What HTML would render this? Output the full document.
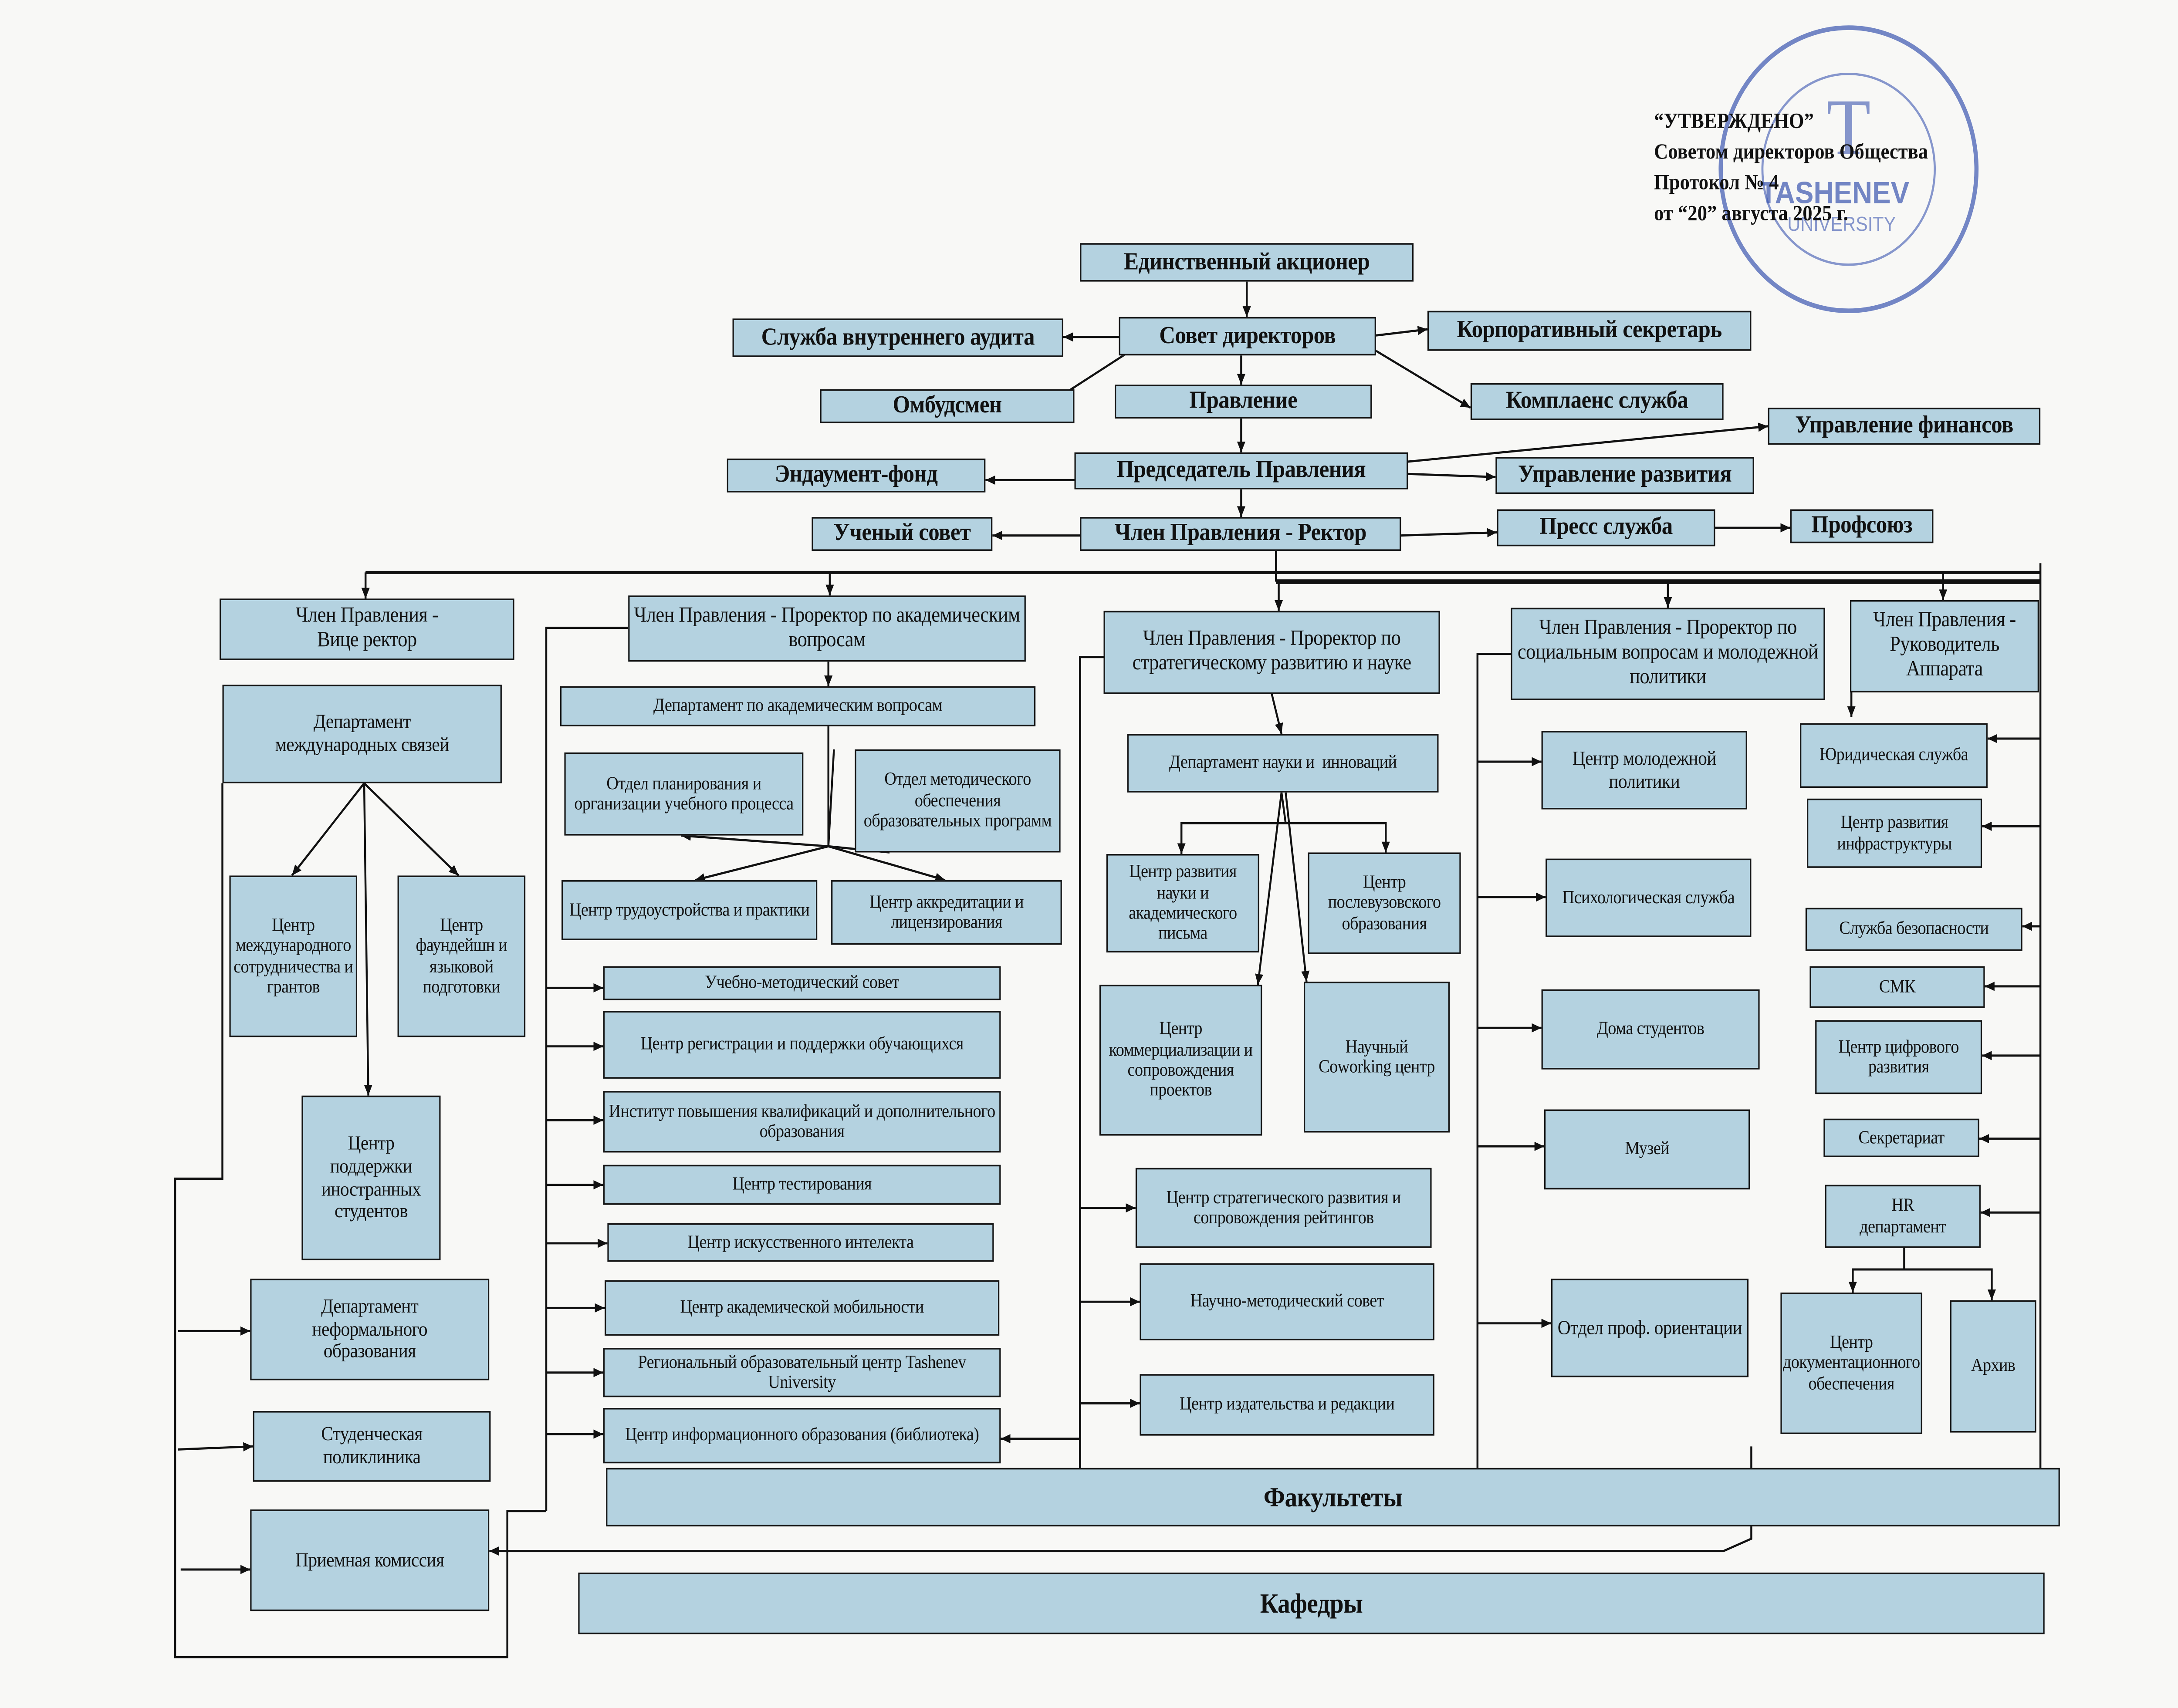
<!DOCTYPE html>
<html><head><meta charset="utf-8">
<style>
html,body{margin:0;padding:0;background:#f8f8f6;width:100%;height:100%;overflow:hidden;}
svg.root{display:block;position:fixed;left:0;top:0;width:100vw;height:100vh;}
.b{position:absolute;box-sizing:border-box;background:#b4d2e0;border:1.6px solid #151515;display:flex;align-items:center;justify-content:center;text-align:center;font-family:"Liberation Serif",serif;color:#111;line-height:1.12;font-size:12px;letter-spacing:-0.2px;overflow:hidden;padding:0 2px;}
.L{font-size:16px;font-weight:bold;}
.M{font-size:14px;}
.st{position:absolute;font-family:"Liberation Serif",serif;font-weight:bold;font-size:14px;color:#111;line-height:20px;white-space:nowrap;}
</style></head><body>
<svg class="root" viewBox="0 0 1567 1110" preserveAspectRatio="none" xmlns="http://www.w3.org/2000/svg">
<defs><marker id="a" markerWidth="8" markerHeight="8" refX="7" refY="4" orient="auto" markerUnits="userSpaceOnUse"><path d="M0,1 L7,4 L0,7z" fill="#111"/></marker></defs>
<rect width="1567" height="1110" fill="#f8f8f6"/>
<circle cx="1330" cy="110" r="92" fill="none" stroke="#3a55b0" stroke-width="3" opacity="0.7"/>
<circle cx="1330" cy="110" r="62" fill="none" stroke="#3a55b0" stroke-width="1.5" opacity="0.6"/>
<text x="1330" y="100" font-family="Liberation Serif" font-size="52" fill="#3a55b0" opacity="0.6" text-anchor="middle">T</text>
<text x="1320" y="132" font-family="Liberation Sans" font-weight="bold" font-size="20" fill="#3a55b0" opacity="0.7" text-anchor="middle">TASHENEV</text>
<text x="1325" y="150" font-family="Liberation Sans" font-size="13" fill="#3a55b0" opacity="0.6" text-anchor="middle">UNIVERSITY</text>
<g stroke="#111" stroke-width="1.4" fill="none">
<path d="M897 183V206" marker-end="url(#a)"/>
<path d="M805 219H765" marker-end="url(#a)"/>
<path d="M990 218L1027 214" marker-end="url(#a)"/>
<path d="M810 230L750 265" marker-end="url(#a)"/>
<path d="M990 228L1058 265" marker-end="url(#a)"/>
<path d="M893 231V250" marker-end="url(#a)"/>
<path d="M893 272V294" marker-end="url(#a)"/>
<path d="M1013 300L1272 277" marker-end="url(#a)"/>
<path d="M1013 308L1076 310" marker-end="url(#a)"/>
<path d="M773 312H709" marker-end="url(#a)"/>
<path d="M893 318V336" marker-end="url(#a)"/>
<path d="M777 348H714" marker-end="url(#a)"/>
<path d="M1008 348L1077 346" marker-end="url(#a)"/>
<path d="M1234 343H1288" marker-end="url(#a)"/>
<path d="M918 358V378"/>
<path d="M263 372H1468" stroke-width="2"/>
<path d="M918 378H1468" stroke-width="3"/>
<path d="M263 372V389" marker-end="url(#a)"/>
<path d="M597 372V387" marker-end="url(#a)"/>
<path d="M920 378V397" marker-end="url(#a)"/>
<path d="M1200 378V395" marker-end="url(#a)"/>
<path d="M1398 372V390" marker-end="url(#a)"/>
<path d="M1468 366V955"/>
<path d="M160 509V766H126V1077H365V982H393"/>
<path d="M262 509L210 569" marker-end="url(#a)"/>
<path d="M262 509L330 569" marker-end="url(#a)"/>
<path d="M262 509L265 712" marker-end="url(#a)"/>
<path d="M128 865H180" marker-end="url(#a)"/>
<path d="M128 942L182 940" marker-end="url(#a)"/>
<path d="M130 1020H180" marker-end="url(#a)"/>
<path d="M1260 940V1000L1240 1008H352" marker-end="url(#a)"/>
<path d="M452 408H393V982"/>
<path d="M596 430V446" marker-end="url(#a)"/>
<path d="M596 472V550"/>
<path d="M596 550L490 543" marker-end="url(#a)"/>
<path d="M596 550L600 487"/>
<path d="M596 550L640 554"/>
<path d="M596 550L500 572" marker-end="url(#a)"/>
<path d="M596 550L680 572" marker-end="url(#a)"/>
<path d="M393 642H434" marker-end="url(#a)"/>
<path d="M393 680H434" marker-end="url(#a)"/>
<path d="M393 728H434" marker-end="url(#a)"/>
<path d="M393 770H434" marker-end="url(#a)"/>
<path d="M393 808H437" marker-end="url(#a)"/>
<path d="M393 850H435" marker-end="url(#a)"/>
<path d="M393 892H434" marker-end="url(#a)"/>
<path d="M393 932H434" marker-end="url(#a)"/>
<path d="M794 427H777V958"/>
<path d="M915 451L922 477" marker-end="url(#a)"/>
<path d="M925 535H850V555" marker-end="url(#a)"/>
<path d="M925 535H997V554" marker-end="url(#a)"/>
<path d="M922 515L925 535"/>
<path d="M922 515L905 640" marker-end="url(#a)"/>
<path d="M925 515L940 638" marker-end="url(#a)"/>
<path d="M777 785H817" marker-end="url(#a)"/>
<path d="M777 846H820" marker-end="url(#a)"/>
<path d="M777 912H820" marker-end="url(#a)"/>
<path d="M777 935H720" marker-end="url(#a)"/>
<path d="M1087 425H1063V955"/>
<path d="M1063 495H1109" marker-end="url(#a)"/>
<path d="M1063 583H1112" marker-end="url(#a)"/>
<path d="M1063 668H1109" marker-end="url(#a)"/>
<path d="M1063 745H1111" marker-end="url(#a)"/>
<path d="M1063 860H1116" marker-end="url(#a)"/>
<path d="M1468 480H1430" marker-end="url(#a)"/>
<path d="M1468 537H1426" marker-end="url(#a)"/>
<path d="M1468 602H1455" marker-end="url(#a)"/>
<path d="M1468 641H1428" marker-end="url(#a)"/>
<path d="M1468 686H1426" marker-end="url(#a)"/>
<path d="M1468 740H1424" marker-end="url(#a)"/>
<path d="M1468 788H1425" marker-end="url(#a)"/>
<path d="M1370 811V825H1333V840" marker-end="url(#a)"/>
<path d="M1370 825H1433V845" marker-end="url(#a)"/>
<path d="M1332 450V466" marker-end="url(#a)"/>
</g>
<foreignObject x="0" y="0" width="1567" height="1110">
<div xmlns="http://www.w3.org/1999/xhtml" style="position:relative;width:1567px;height:1110px;">
<div class="st" style="left:1190px;top:70px">“УТВЕРЖДЕНО”<br/>Советом директоров Общества<br/>Протокол № 4<br/>от “20” августа 2025 г.</div>

<div class="b L" style="left:777px;top:158px;width:240px;height:25px">Единственный акционер</div>
<div class="b L" style="left:527px;top:207px;width:238px;height:25px">Служба внутреннего аудита</div>
<div class="b L" style="left:805px;top:206px;width:185px;height:25px">Совет директоров</div>
<div class="b L" style="left:1027px;top:202px;width:233px;height:26px">Корпоративный секретарь</div>
<div class="b L" style="left:590px;top:253px;width:183px;height:22px">Омбудсмен</div>
<div class="b L" style="left:802px;top:250px;width:185px;height:22px">Правление</div>
<div class="b L" style="left:1058px;top:249px;width:182px;height:24px">Комплаенс служба</div>
<div class="b L" style="left:1272px;top:265px;width:196px;height:24px">Управление финансов</div>
<div class="b L" style="left:523px;top:298px;width:186px;height:22px">Эндаумент-фонд</div>
<div class="b L" style="left:773px;top:294px;width:240px;height:24px">Председатель Правления</div>
<div class="b L" style="left:1076px;top:297px;width:186px;height:24px">Управление развития</div>
<div class="b L" style="left:584px;top:336px;width:130px;height:22px">Ученый совет</div>
<div class="b L" style="left:777px;top:336px;width:231px;height:22px">Член Правления - Ректор</div>
<div class="b L" style="left:1077px;top:331px;width:157px;height:24px">Пресс служба</div>
<div class="b L" style="left:1288px;top:331px;width:103px;height:22px">Профсоюз</div>

<div class="b M" style="left:158px;top:389px;width:212px;height:40px">Член Правления -<br/>Вице ректор</div>
<div class="b M" style="left:452px;top:387px;width:286px;height:43px">Член Правления - Проректор по академическим вопросам</div>
<div class="b M" style="left:794px;top:397px;width:242px;height:54px">Член Правления - Проректор по стратегическому развитию и науке</div>
<div class="b M" style="left:1087px;top:395px;width:226px;height:60px">Член Правления - Проректор по социальным вопросам и молодежной политики</div>
<div class="b M" style="left:1331px;top:390px;width:136px;height:60px">Член Правления - Руководитель Аппарата</div>

<div class="b" style="left:160px;top:445px;width:201px;height:64px;font-size:13px">Департамент<br/>международных связей</div>
<div class="b" style="left:165px;top:569px;width:92px;height:105px">Центр международного сотрудничества и грантов</div>
<div class="b" style="left:286px;top:569px;width:92px;height:105px">Центр фаундейшн и языковой подготовки</div>
<div class="b" style="left:217px;top:712px;width:100px;height:107px;font-size:13px">Центр поддержки иностранных студентов</div>
<div class="b" style="left:180px;top:831px;width:172px;height:66px;font-size:13px">Департамент<br/>неформального<br/>образования</div>
<div class="b" style="left:182px;top:917px;width:171px;height:46px;font-size:13px">Студенческая<br/>поликлиника</div>
<div class="b" style="left:180px;top:981px;width:172px;height:66px;font-size:13px">Приемная комиссия</div>

<div class="b" style="left:403px;top:446px;width:342px;height:26px">Департамент по академическим вопросам</div>
<div class="b" style="left:406px;top:489px;width:172px;height:54px">Отдел планирования и организации учебного процесса</div>
<div class="b" style="left:615px;top:487px;width:148px;height:67px">Отдел методического обеспечения образовательных программ</div>
<div class="b" style="left:404px;top:572px;width:184px;height:39px">Центр трудоустройства и практики</div>
<div class="b" style="left:598px;top:572px;width:166px;height:42px">Центр аккредитации и лицензирования</div>
<div class="b" style="left:434px;top:628px;width:286px;height:22px">Учебно-методический совет</div>
<div class="b" style="left:434px;top:657px;width:286px;height:44px">Центр регистрации и поддержки обучающихся</div>
<div class="b" style="left:434px;top:709px;width:286px;height:40px">Институт повышения квалификаций и дополнительного образования</div>
<div class="b" style="left:434px;top:757px;width:286px;height:26px">Центр тестирования</div>
<div class="b" style="left:437px;top:795px;width:278px;height:25px">Центр искусственного интелекта</div>
<div class="b" style="left:435px;top:832px;width:284px;height:36px">Центр академической мобильности</div>
<div class="b" style="left:434px;top:876px;width:286px;height:32px">Региональный образовательный центр Tashenev University</div>
<div class="b" style="left:434px;top:915px;width:286px;height:36px">Центр информационного образования (библиотека)</div>

<div class="b" style="left:811px;top:477px;width:224px;height:38px">Департамент науки и &#160;инноваций</div>
<div class="b" style="left:796px;top:555px;width:110px;height:64px">Центр развития науки и академического письма</div>
<div class="b" style="left:941px;top:554px;width:110px;height:66px">Центр послевузовского образования</div>
<div class="b" style="left:791px;top:640px;width:117px;height:98px">Центр коммерциализации и сопровождения проектов</div>
<div class="b" style="left:938px;top:638px;width:105px;height:98px">Научный Coworking центр</div>
<div class="b" style="left:817px;top:759px;width:213px;height:52px">Центр стратегического развития и сопровождения рейтингов</div>
<div class="b" style="left:820px;top:821px;width:212px;height:50px">Научно-методический совет</div>
<div class="b" style="left:820px;top:893px;width:212px;height:40px">Центр издательства и редакции</div>

<div class="b" style="left:1109px;top:475px;width:148px;height:51px;font-size:13px">Центр молодежной политики</div>
<div class="b" style="left:1112px;top:558px;width:148px;height:51px">Психологическая служба</div>
<div class="b" style="left:1109px;top:643px;width:157px;height:52px">Дома студентов</div>
<div class="b" style="left:1111px;top:721px;width:148px;height:52px">Музей</div>
<div class="b" style="left:1116px;top:831px;width:142px;height:64px;font-size:13px">Отдел проф. ориентации</div>

<div class="b" style="left:1295px;top:470px;width:135px;height:42px">Юридическая служба</div>
<div class="b" style="left:1300px;top:519px;width:126px;height:45px">Центр развития инфраструктуры</div>
<div class="b" style="left:1299px;top:590px;width:156px;height:28px">Служба безопасности</div>
<div class="b" style="left:1302px;top:628px;width:126px;height:27px">СМК</div>
<div class="b" style="left:1306px;top:663px;width:120px;height:48px">Центр цифрового развития</div>
<div class="b" style="left:1312px;top:727px;width:112px;height:25px">Секретариат</div>
<div class="b" style="left:1313px;top:770px;width:112px;height:41px">HR<br/>департамент</div>
<div class="b" style="left:1281px;top:840px;width:102px;height:92px">Центр документационного обеспечения</div>
<div class="b" style="left:1403px;top:845px;width:62px;height:86px">Архив</div>

<div class="b L" style="left:436px;top:954px;width:1046px;height:38px;font-size:18px">Факультеты</div>
<div class="b L" style="left:416px;top:1022px;width:1055px;height:40px;font-size:18px">Кафедры</div>
</div>
</foreignObject>
</svg>
</body></html>
